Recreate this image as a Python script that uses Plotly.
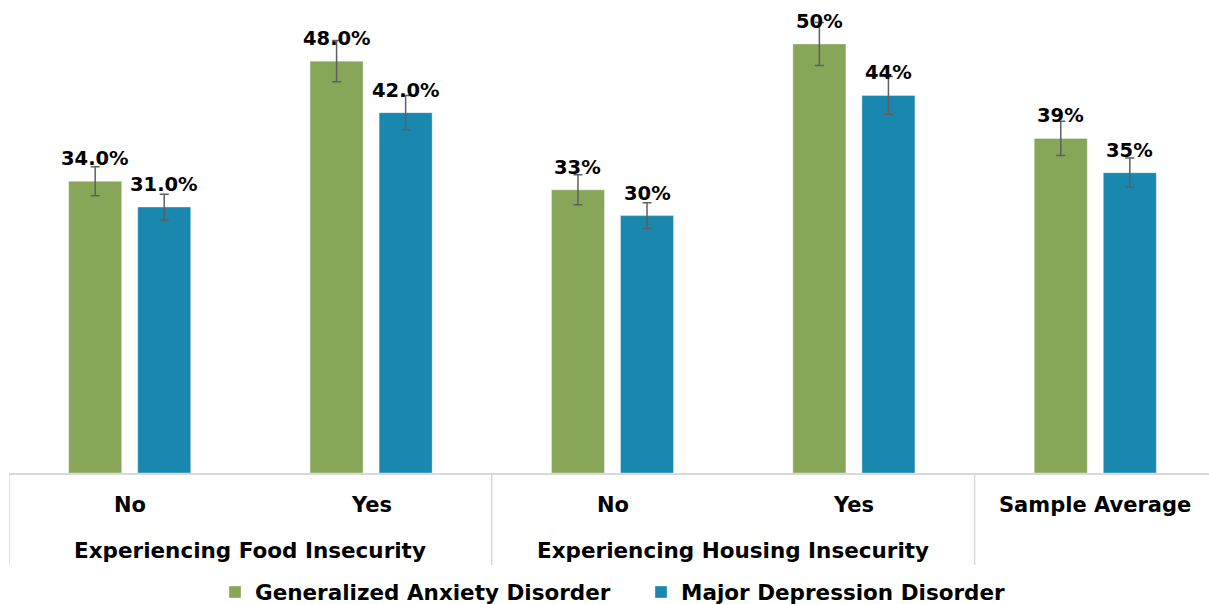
import plotly.graph_objects as go

# ---- data ----
inner_labels = ["No", "Yes", "No", "Yes", "Sample Average"]
outer_labels = ["Experiencing Food Insecurity", "Experiencing Housing Insecurity"]
outer_span = [(0, 1), (2, 3)]
series_names = ["Generalized Anxiety Disorder", "Major Depression Disorder"]
gad_values = [34.0, 48.0, 33.0, 50.0, 39.0]
mdd_values = [31.0, 42.0, 30.0, 44.0, 35.0]
gad_text = ["34.0%", "48.0%", "33%", "50%", "39%"]
mdd_text = ["31.0%", "42.0%", "30%", "44%", "35%"]
gad_err = [1.7, 2.4, 1.75, 2.5, 2.0]
mdd_err = [1.5, 2.0, 1.5, 2.2, 1.7]

# ---- style ----
GREEN = "#87A658"
BLUE = "#1A88AE"
FONT = "DejaVu Sans"
BARGAP = 0.428
BARGROUPGAP = 0.232
W, H = 1209, 604
ML, MR, MT, MB = 9, 0, 0, 131
plot_h = H - MT - MB
plot_w = W - ML - MR
cat_px = 241.4

xs = list(range(len(inner_labels)))
fig = go.Figure()
legend_ids = ["legend", "legend2"]
for name, vals, err, color, lg in [
    (series_names[0], gad_values, gad_err, GREEN, legend_ids[0]),
    (series_names[1], mdd_values, mdd_err, BLUE, legend_ids[1]),
]:
    fig.add_trace(go.Bar(
        x=xs, y=vals, name=name, legend=lg,
        marker=dict(color=color, line=dict(width=1, color="rgba(255,255,255,0.35)")),
        error_y=dict(type="data", array=err, visible=True,
                     color="#5f5f5f", thickness=1.5, width=4.5),
    ))

slot = (1 - BARGAP) / 2
offsets = [-slot / 2, slot / 2]
ann = []
for off, vals, texts in [(offsets[0], gad_values, gad_text), (offsets[1], mdd_values, mdd_text)]:
    for i, (v, t) in enumerate(zip(vals, texts)):
        ann.append(dict(x=i + off, y=v, xref="x", yref="y", text=t, showarrow=False,
                        yanchor="bottom", yshift=9,
                        font=dict(family=FONT, size=19.5, color="#000000", weight="bold")))

def py(px):
    return -(px - (H - MB)) / plot_h

for i, t in enumerate(inner_labels):
    ann.append(dict(x=i, y=py(505), xref="x", yref="paper", text=t, showarrow=False,
                    yanchor="middle", font=dict(family=FONT, size=21, color="#000000", weight="bold")))
for (a, b), t in zip(outer_span, outer_labels):
    ann.append(dict(x=(a + b) / 2, y=py(550), xref="x", yref="paper", text=t, showarrow=False,
                    yanchor="middle", font=dict(family=FONT, size=21.5, color="#000000", weight="bold")))

shapes = []
for xb in [-0.5, 1.5, 3.5]:
    shapes.append(dict(type="line", xref="x", yref="paper", x0=xb, x1=xb, y0=0, y1=py(565),
                       line=dict(color="#d9d9d9", width=1.5)))

legend_font = dict(family=FONT, size=21.5, color="#000000", weight="bold")
def legend_at(text_px):
    return dict(orientation="h", xref="container", yref="container",
                x=(text_px - 40) / W, xanchor="left",
                y=(H - 592) / H, yanchor="middle",
                font=legend_font, itemwidth=30, bgcolor="rgba(0,0,0,0)")

fig.update_layout(
    width=W, height=H,
    margin=dict(l=ML, r=MR, t=MT, b=MB, autoexpand=False),
    paper_bgcolor="white", plot_bgcolor="white",
    barmode="group", bargap=BARGAP, bargroupgap=BARGROUPGAP,
    showlegend=True,
    legend=legend_at(255),
    legend2=legend_at(681),
    annotations=ann, shapes=shapes,
    xaxis=dict(range=[-0.5, -0.5 + plot_w / cat_px], showticklabels=False, ticks="",
               showgrid=False, zeroline=False, showline=True, linecolor="#d9d9d9", linewidth=2),
    yaxis=dict(range=[0, plot_h / 8.58], visible=False, showgrid=False, zeroline=False),
)

fig.write_html("out.html", config={"displayModeBar": False},
               post_script="document.body.style.margin='0';document.body.style.padding='0';")
